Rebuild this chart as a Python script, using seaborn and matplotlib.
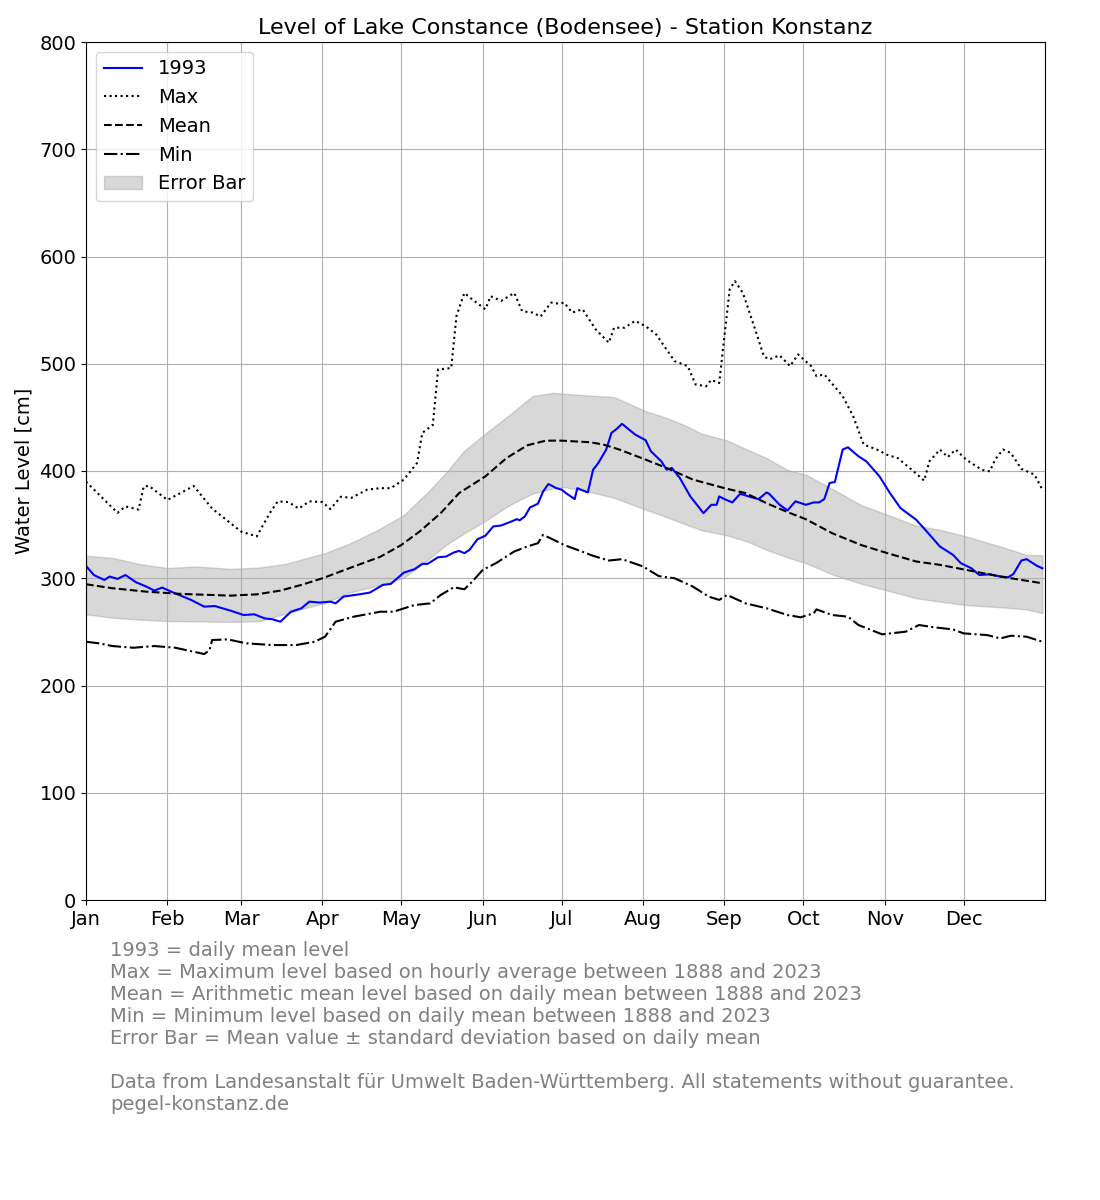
import matplotlib
matplotlib.use("Agg")
import matplotlib.pyplot as plt
import seaborn as sns
import numpy as np
import pandas as pd

# ---------------- data (day of year, 0 = Jan 1) ----------------
month_ticks = [0, 31, 59, 90, 120, 151, 181, 212, 243, 273, 304, 334]
month_labels = ["Jan", "Feb", "Mar", "Apr", "May", "Jun",
                "Jul", "Aug", "Sep", "Oct", "Nov", "Dec"]

y1993_days = [0, 3, 7, 9, 12, 15, 19, 23, 26, 29, 33, 40, 45, 49, 55, 60, 64, 68, 71, 74,
              78, 82, 85, 89, 93, 95, 98, 104, 108, 113, 116, 121, 125, 128, 130, 134, 137,
              140, 142, 144, 146, 149, 152, 155, 158, 162, 164, 165, 167, 169, 172, 174, 176,
              179, 181, 183, 186, 187, 191, 193, 195, 198, 200, 202, 204, 207, 209, 213, 215,
              219, 221, 223, 226, 230, 233, 235, 238, 240, 241, 243, 246, 249, 253, 256, 259,
              260, 264, 267, 270, 274, 277, 279, 281, 283, 285, 288, 290, 294, 297, 302, 306,
              310, 316, 320, 325, 330, 333, 337, 340, 344, 348, 351, 353, 356, 358, 362, 364]
y1993_vals = [311.5, 303, 298.4, 301.6, 299.4, 303, 296.3, 292.2, 288.5, 291.3, 286.9, 279.8,
              273.5, 274.1, 269.8, 265.7, 266.4, 262.6, 261.7, 259.5, 268.8, 272, 278.2, 277.3,
              278.2, 276.6, 282.9, 285, 286.6, 293.8, 294.7, 305.3, 308.4, 313.4, 313.4, 319.6,
              320.2, 324, 325.5, 323.4, 326.5, 336.4, 339.6, 348.3, 349.2, 353, 355.1, 354,
              357.6, 366, 369.5, 381, 387.9, 384, 382.6, 378.8, 373.8, 384, 380, 401.2, 407.5,
              420, 435.5, 439.3, 444, 438, 434, 428.7, 418.4, 409, 401.2, 402.8, 393.5, 376.3,
              367, 360.7, 368.5, 368.5, 376.3, 373.8, 370.7, 378.8, 375.7, 373.8, 380, 378.8,
              368.5, 363.2, 371.7, 368.5, 370.7, 370.7, 373.8, 388.8, 389.7, 420, 422.1, 413.7,
              409, 395, 379.4, 365.4, 354.5, 343.6, 329.6, 321.8, 314, 309.3, 303, 303.7, 301.6,
              300.9, 304, 316.5, 317.8, 311.5, 309.3]

max_days = [0, 12, 15, 20, 22, 24, 31, 41, 48, 59, 65, 70, 73, 77, 81, 85, 90, 93, 97, 101,
            107, 112, 116, 121, 126, 128, 132, 134, 139, 141, 144, 147, 152, 154, 158, 163,
            166, 170, 173, 177, 180, 182, 185, 189, 194, 199, 201, 205, 209, 213, 217, 224,
            229, 232, 236, 238, 241, 243, 245, 247, 250, 253, 258, 260, 264, 268, 271, 276,
            278, 281, 288, 292, 296, 301, 305, 309, 315, 319, 321, 325, 328, 331, 335, 341,
            344, 346, 349, 352, 356, 361, 364]
max_vals = [390, 361, 367, 364, 385.7, 386, 373, 386, 365, 343.6, 339, 361, 371.7, 371, 365,
            371.7, 371, 364.5, 376, 375, 382.6, 384, 384, 392, 407.5, 435.5, 443, 494.7, 496,
            544.5, 566, 560, 550.8, 563, 558.6, 566, 549, 547.7, 544, 557, 556, 557, 547.7,
            550.8, 532, 519.6, 533.6, 533.6, 540, 535, 527.4, 502.5, 497.8, 480.7, 479, 485,
            482, 525.9, 569.5, 577, 566, 544.5, 507, 504, 507.8, 497.8, 508.7, 497.8, 488.5,
            490, 469.8, 451, 424.6, 420, 415, 412, 399.7, 391, 409, 420, 413, 420, 410.6, 401,
            399.7, 410.6, 420, 416.8, 402, 396.6, 382.6]

mean_days = [0, 10, 23, 36, 55, 65, 74, 82, 90, 102, 112, 120, 127, 135, 142, 152, 160, 168,
             175, 181, 192, 197, 203, 213, 221, 231, 243, 251, 259, 267, 274, 284, 295, 305,
             316, 325, 335, 348, 364]
mean_vals = [294.4, 290.7, 287.5, 285.4, 283.8, 285, 288.5, 293.8, 300, 311, 320, 331, 343.6,
             360.7, 379.4, 395, 412, 424, 428.3, 428.3, 426.8, 424.6, 420, 410.6, 402.8, 392,
             384, 379.4, 370, 361.7, 355, 342, 331, 323.4, 315.6, 312.5, 307.8, 301.6, 295.3]

min_days = [0, 5, 10, 18, 26, 34, 41, 45, 47, 48, 54, 61, 71, 80, 87, 91, 95, 102, 112, 117,
            125, 131, 135, 140, 144, 147, 151, 156, 163, 168, 172, 174, 178, 182, 187, 193,
            199, 204, 212, 218, 224, 231, 237, 241, 244, 251, 259, 267, 272, 277, 278, 284,
            290, 294, 303, 312, 317, 323, 330, 334, 343, 348, 352, 358, 364]
min_vals = [240.8, 239.3, 236.8, 235.2, 236.8, 235.2, 231.5, 229.3, 233, 242.4, 243, 239.3,
            237.7, 237.7, 240.8, 245.5, 259.5, 264.2, 268.8, 268.8, 275, 276.6, 284.4, 291.6,
            289.7, 296.9, 307.8, 314, 325, 329.6, 332.7, 340.5, 335.8, 331, 326.5, 320.9,
            316.5, 317.8, 311, 302, 300, 292.2, 282.9, 279.8, 284.4, 276.6, 272, 265.7, 263.6,
            267.3, 271, 265.7, 264.2, 256.4, 247.7, 250.2, 256.4, 254.2, 252.3, 248.6, 247,
            243.9, 246.4, 245.5, 240.8]

band_days = [0, 10, 20, 31, 42, 55, 66, 76, 85, 91, 100, 111, 121, 131, 137, 144, 152, 161,
             170, 178, 182, 191, 201, 213, 221, 229, 234, 244, 252, 259, 267, 274, 285, 295,
             305, 316, 325, 335, 348, 358, 364]
band_upper = [321, 319, 313.5, 309.5, 311, 308.7, 310, 313.4, 319.5, 323.5, 332, 345, 359,
              382.6, 398.5, 419, 435, 452, 470, 472.9, 472, 470.4, 469, 455.8, 449.5, 441.5,
              435, 428.5, 419.6, 412, 401, 396.5, 382, 368.3, 359.2, 349, 345.2, 339, 329.6,
              321.8, 321.5]
band_lower = [266.4, 263.2, 261.5, 260.1, 259.8, 259.3, 260, 267, 273.3, 277, 286.5, 293.3,
              300.5, 319, 331, 342, 353.5, 368, 379, 384, 385, 381, 375, 364, 357, 349.5, 345,
              340, 334, 326.5, 319.4, 314, 302.7, 295, 288.5, 281.4, 278.2, 275, 273, 271,
              267.5]

footnote = ("1993 = daily mean level\n"
            "Max = Maximum level based on hourly average between 1888 and 2023\n"
            "Mean = Arithmetic mean level based on daily mean between 1888 and 2023\n"
            "Min = Minimum level based on daily mean between 1888 and 2023\n"
            "Error Bar = Mean value \u00b1 standard deviation based on daily mean\n"
            "\n"
            "Data from Landesanstalt f\u00fcr Umwelt Baden-W\u00fcrttemberg. All statements without guarantee.\n"
            "pegel-konstanz.de")

# ---------------- plot ----------------
plt.rcParams["font.family"] = ["DejaVu Sans"]
fig = plt.figure(figsize=(11, 12), dpi=100)
ax = fig.add_axes([86 / 1100, 1 - 900 / 1200, (1045 - 86) / 1100, (900 - 42) / 1200])

sns.lineplot(x=y1993_days, y=y1993_vals, ax=ax, color="blue", linewidth=1.5,
             label="1993", sort=False)
sns.lineplot(x=max_days, y=max_vals, ax=ax, color="black", linestyle=":", linewidth=1.5,
             label="Max", sort=False)
sns.lineplot(x=mean_days, y=mean_vals, ax=ax, color="black", linestyle="--", linewidth=1.5,
             label="Mean", sort=False)
sns.lineplot(x=min_days, y=min_vals, ax=ax, color="black", linestyle="-.", linewidth=1.5,
             label="Min", sort=False)
ax.fill_between(band_days, band_lower, band_upper, color="gray", alpha=0.3,
                label="Error Bar")

ax.set_xlim(0, 365)
ax.set_ylim(0, 800)
ax.set_xticks(month_ticks)
ax.set_xticklabels(month_labels)
ax.set_yticks(range(0, 801, 100))
ax.tick_params(labelsize=14)
ax.grid(True, color="#b0b0b0", linewidth=0.8)
ax.set_xlabel("")
ax.set_ylabel("Water Level [cm]", fontsize=14)
ax.set_title("Level of Lake Constance (Bodensee) - Station Konstanz", fontsize=16)

ax.legend(loc="upper left", fontsize=14)

fig.text(110 / 1100, 1 - 941 / 1200, footnote, fontsize=14, color="gray",
         va="top", ha="left", linespacing=1.2)

fig.savefig("out.png", dpi=100)
